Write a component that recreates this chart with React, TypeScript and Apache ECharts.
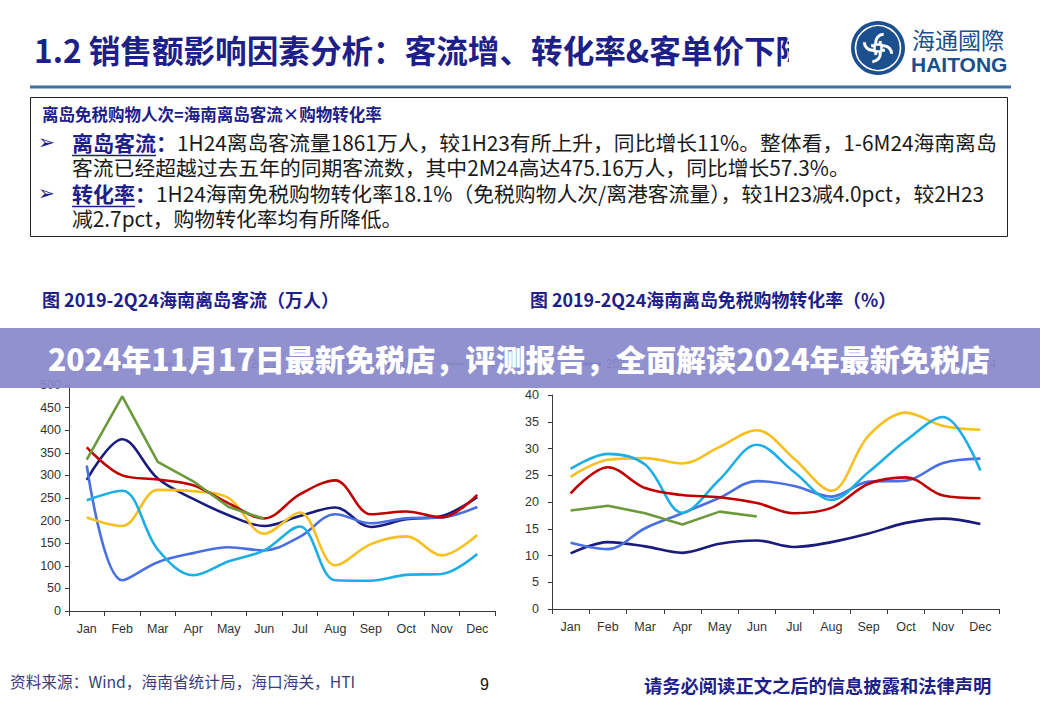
import React, { useEffect, useRef } from "react";
import * as echarts from "echarts";

const months = ["Jan", "Feb", "Mar", "Apr", "May", "Jun", "Jul", "Aug", "Sep", "Oct", "Nov", "Dec"];
const years = ["2019", "2020", "2021", "2022", "2023", "2024"];
const yearColors = ["#1b1b7e", "#4a6fe3", "#f7bf1f", "#1eaee6", "#c00000", "#6b9a3c"];

// 海南离岛客流（万人）
const flow2019 = [290, 380, 293, 248, 212, 188, 210, 229, 186, 203, 210, 252];
const flow2020 = [322, 68, 108, 128, 141, 134, 164, 214, 194, 205, 207, 230];
const flow2021 = [207, 188, 268, 265, 250, 171, 218, 101, 148, 165, 123, 168];
const flow2022 = [245, 266, 136, 79, 110, 134, 187, 68, 67, 80, 82, 126];
const flow2023 = [362, 300, 291, 278, 238, 205, 258, 289, 214, 220, 207, 257];
const flow2024 = [335, 475, 330, 287, 230, 204];

// 海南离岛免税购物转化率（%）
const conv2019 = [10.4, 12.5, 11.7, 10.5, 12.2, 12.8, 11.6, 12.5, 14.1, 16.1, 16.9, 15.9];
const conv2020 = [12.4, 11.2, 15.1, 17.9, 20.8, 23.9, 23.0, 21.0, 23.8, 24.0, 27.3, 28.1];
const conv2021 = [24.7, 27.9, 28.2, 27.2, 30.3, 33.4, 28.1, 22.1, 32.4, 36.7, 34.2, 33.5];
const conv2022 = [26.2, 29.0, 27.0, 18.0, 24.2, 30.7, 25.6, 20.4, 25.6, 31.5, 35.9, 25.9];
const conv2023 = [21.6, 26.5, 22.6, 21.3, 20.9, 19.8, 17.9, 18.9, 23.4, 24.6, 21.2, 20.7];
const conv2024 = [18.4, 19.3, 17.9, 15.8, 18.2, 17.3];

const flowData = [flow2019, flow2020, flow2021, flow2022, flow2023, flow2024];
const convData = [conv2019, conv2020, conv2021, conv2022, conv2023, conv2024];

const NAVY = "#1d2088";
const CJK = "'Noto Sans CJK SC', 'Noto Sans', sans-serif";
const LAT = "'Liberation Sans', Arial, sans-serif";

function makeSeries(data: number[][], axis: number) {
  return data.map((d, i) => ({
    name: years[i],
    type: "line",
    xAxisIndex: axis,
    yAxisIndex: axis,
    data: d,
    smooth: i === 5 ? false : 0.35,
    symbol: "none",
    lineStyle: { width: 2.6, color: yearColors[i] },
    itemStyle: { color: yearColors[i] },
    z: 2 + i,
  }));
}

function axisPair(grid: number, max: number, interval: number, margin: number) {
  return {
    x: {
      type: "category",
      gridIndex: grid,
      data: months,
      boundaryGap: true,
      axisLine: { show: true, lineStyle: { color: "#3a3a3a", width: 1 } },
      axisTick: { show: true, length: 5, lineStyle: { color: "#3a3a3a" } },
      axisLabel: { color: "#333", fontSize: 12.5, fontFamily: LAT, margin: 11 },
      splitLine: { show: false },
    },
    y: {
      type: "value",
      gridIndex: grid,
      min: 0,
      max,
      interval,
      axisLine: { show: true, lineStyle: { color: "#3a3a3a", width: 1 } },
      axisTick: { show: true, length: 4, lineStyle: { color: "#3a3a3a" } },
      axisLabel: { color: "#333", fontSize: 12.5, fontFamily: LAT, margin },
      splitLine: { show: false },
    },
  };
}

function logoElements(cx: number, cy: number) {
  const els: any[] = [
    { type: "circle", shape: { cx, cy, r: 27 }, style: { fill: "#1b4f8d" }, z: 10 },
    { type: "circle", shape: { cx, cy, r: 22.5 }, style: { fill: "none", stroke: "#ffffff", lineWidth: 1.6 }, z: 11 },
  ];
  for (let k = 0; k < 4; k++) {
    const t = (k * Math.PI) / 2 + Math.PI / 4;
    els.push({
      type: "arc",
      shape: {
        cx: cx + 8 * Math.cos(t),
        cy: cy + 8 * Math.sin(t),
        r: 8,
        startAngle: t + Math.PI * 0.7,
        endAngle: t + Math.PI * 1.75,
      },
      style: { stroke: "#ffffff", lineWidth: 3, fill: "none" },
      z: 12,
    });
  }
  els.push({
    type: "rect",
    x: cx,
    y: cy,
    shape: { x: -4.5, y: -4.5, width: 9, height: 9 },
    style: { fill: "#ffffff" },
    z: 13,
  });
  els.push({
    type: "rect",
    x: cx,
    y: cy,
    shape: { x: -2.2, y: -2.2, width: 4.4, height: 4.4 },
    style: { fill: "#1b4f8d" },
    z: 14,
  });
  return els;
}

function txt(x: number, y: number, text: string, style: any, z = 20) {
  return {
    type: "text",
    x,
    y,
    z,
    style: { text, align: "left", verticalAlign: "middle", ...style },
  };
}

const BODY = 20.8;
const bodyRich = {
  h: { fontFamily: CJK, fontSize: 21, fontWeight: "bold", fill: NAVY },
  t: { fontFamily: CJK, fontSize: BODY, fill: "#1a1a1a" },
};

export default function App() {
  const ref = useRef<HTMLDivElement>(null);
  useEffect(() => {
    if (!ref.current) return;
    const chart = echarts.init(ref.current, null, { renderer: "svg" });
    const a0 = axisPair(0, 500, 50, 8);
    const a1 = axisPair(1, 40, 5, 13);
    const graphicEls: any[] = [
      // title
      txt(34, 49, "1.2 销售额影响因素分析：客流增、转化率&客单价下降", {
        fontFamily: CJK,
        fontSize: 31.6,
        fontWeight: "bold",
        fill: NAVY,
      }),
      { type: "rect", shape: { x: 789, y: 25, width: 50, height: 50 }, style: { fill: "#ffffff" }, z: 21 },
      ...logoElements(878, 48),
      txt(912, 39, "海通國際", { fontFamily: CJK, fontSize: 23, fill: "#1b4f8d" }),
      txt(911, 64, "HAITONG", { fontFamily: LAT, fontSize: 21, fontWeight: "bold", fill: "#1b4f8d" }),
      // blue rule
      { type: "rect", shape: { x: 30, y: 85.5, width: 981, height: 3 }, style: { fill: "#3a6fa8" }, z: 20 },
      // text box
      { type: "rect", shape: { x: 30.5, y: 97.5, width: 977, height: 139 }, style: { fill: "none", stroke: "#222", lineWidth: 1 }, z: 20 },
      txt(42, 114, "离岛免税购物人次=海南离岛客流×购物转化率", {
        fontFamily: CJK,
        fontSize: 16.5,
        fontWeight: "bold",
        fill: NAVY,
      }),
      txt(38, 142, "➢", { fontFamily: "'DejaVu Sans', sans-serif", fontSize: 20, fill: NAVY }),
      txt(72, 142, "{h|离岛客流}{h|：}{t|1H24离岛客流量1861万人，较1H23有所上升，同比增长11%。整体看，1-6M24海南离岛}", {
        rich: bodyRich,
      }),
      { type: "line", shape: { x1: 72, y1: 155.5, x2: 156, y2: 155.5 }, style: { stroke: NAVY, lineWidth: 1.3 }, z: 20 },
      txt(72, 167, "客流已经超越过去五年的同期客流数，其中2M24高达475.16万人，同比增长57.3%。", {
        fontFamily: CJK,
        fontSize: BODY,
        fill: "#1a1a1a",
      }),
      txt(38, 193, "➢", { fontFamily: "'DejaVu Sans', sans-serif", fontSize: 20, fill: NAVY }),
      txt(72, 193, "{h|转化率}{h|：}{t|1H24海南免税购物转化率18.1%（免税购物人次/离港客流量），较1H23减4.0pct，较2H23}", {
        rich: bodyRich,
      }),
      { type: "line", shape: { x1: 72, y1: 206.5, x2: 135, y2: 206.5 }, style: { stroke: NAVY, lineWidth: 1.3 }, z: 20 },
      txt(72, 218, "减2.7pct，购物转化率均有所降低。", { fontFamily: CJK, fontSize: BODY, fill: "#1a1a1a" }),
      // chart titles
      txt(42, 299, "图 2019-2Q24海南离岛客流（万人）", { fontFamily: CJK, fontSize: 18, fontWeight: "bold", fill: NAVY }),
      txt(530, 299, "图 2019-2Q24海南离岛免税购物转化率（%）", { fontFamily: CJK, fontSize: 17.9, fontWeight: "bold", fill: NAVY }),
      // banner
      { type: "rect", shape: { x: 0, y: 328, width: 1040, height: 60 }, style: { fill: "rgba(137,137,204,0.93)" }, z: 100 },
      {
        type: "text",
        x: 519,
        y: 358,
        z: 101,
        style: {
          text: "2024年11月17日最新免税店，评测报告，全面解读2024年最新免税店",
          align: "center",
          verticalAlign: "middle",
          fontFamily: CJK,
          fontSize: 30.1,
          fontWeight: 900,
          fill: "#ffffff",
        },
      },
      // footer
      txt(10, 681, "资料来源：Wind，海南省统计局，海口海关，HTI", { fontFamily: CJK, fontSize: 15.7, fill: "#3b3b7a" }),
      txt(480, 684, "9", { fontFamily: LAT, fontSize: 16, fill: "#111" }),
      txt(644, 685, "请务必阅读正文之后的信息披露和法律声明", { fontFamily: CJK, fontSize: 18.3, fontWeight: "bold", fill: NAVY }),
    ];

    const legendBase = {
      data: years,
      top: 353,
      icon: "rect",
      itemWidth: 18,
      itemHeight: 3,
      itemGap: 23,
      textStyle: { fontFamily: LAT, fontSize: 12, color: "#333" },
    };

    chart.setOption({
      animation: false,
      backgroundColor: "#ffffff",
      grid: [
        { left: 69, right: 545, top: 385, bottom: 107, containLabel: false },
        { left: 552, right: 41, top: 395, bottom: 109, containLabel: false },
      ],
      legend: [
        { ...legendBase, left: 77 },
        { ...legendBase, left: 578 },
      ],
      xAxis: [a0.x, a1.x],
      yAxis: [a0.y, a1.y],
      series: [...makeSeries(flowData, 0), ...makeSeries(convData, 1)],
      graphic: { elements: graphicEls },
    });
    return () => chart.dispose();
  }, []);
  return (
    <div
      ref={ref}
      style={{ position: "absolute", left: 0, top: 0, width: 1040, height: 718 }}
    />
  );
}
